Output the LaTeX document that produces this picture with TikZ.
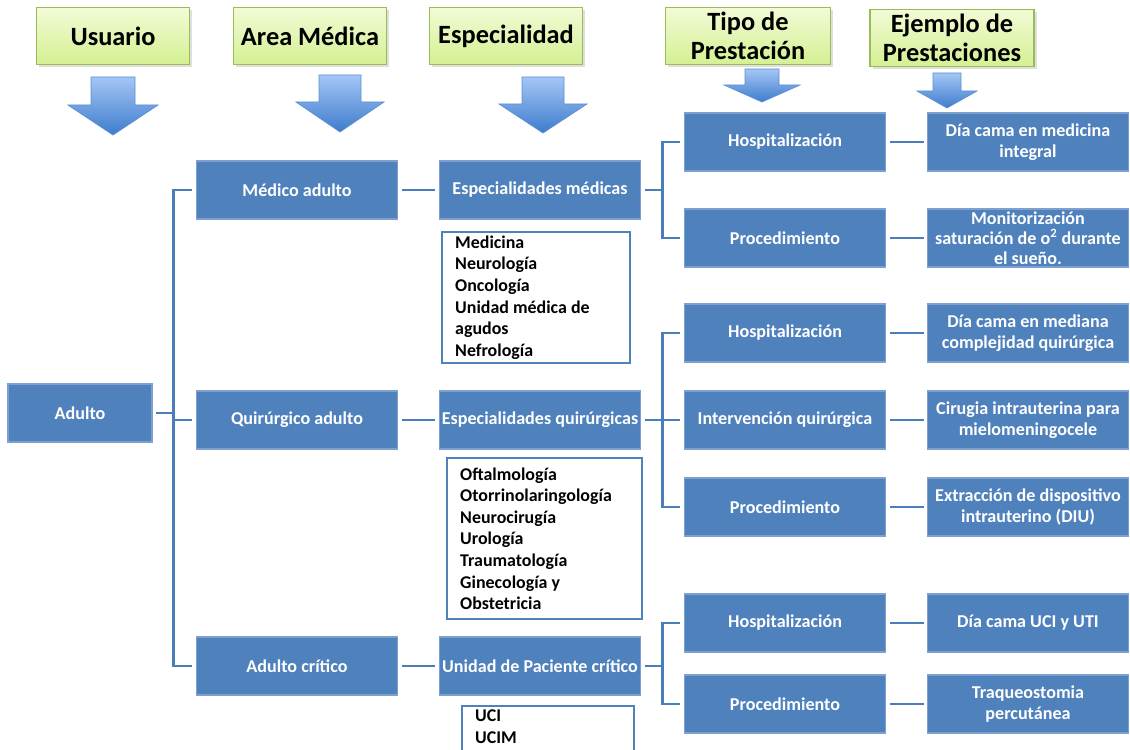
\documentclass[tikz,border=0pt]{standalone}
\usepackage{fontspec}
\setmainfont{Carlito}
\usetikzlibrary{positioning,shadows}

\definecolor{boxblue}{RGB}{79,129,189}
\definecolor{boxedge}{RGB}{125,160,208}
\definecolor{linkblue}{RGB}{74,126,187}
\definecolor{headtop}{RGB}{242,251,214}
\definecolor{headbot}{RGB}{212,240,146}
\definecolor{headedge}{RGB}{155,187,89}
\definecolor{arrtop}{RGB}{164,198,246}
\definecolor{arrbot}{RGB}{62,124,204}

% column arrow: x, top, shaft half width, head half width, head y, tip y
\newcommand{\colarrow}[6]{%
  \shade[top color=arrtop, bottom color=arrbot, draw=arrbot!85, line width=0.4pt]
    ({#1-#3},#2) -- ({#1+#3},#2) -- ({#1+#3},#5) -- ({#1+#4},#5)
    -- (#1,#6) -- ({#1-#4},#5) -- ({#1-#3},#5) -- cycle;}

\tikzset{
  header/.style={draw=headedge, line width=1pt, top color=headtop, bottom color=headbot,
    drop shadow={opacity=0.25, shadow xshift=1.5pt, shadow yshift=-1.5pt},
    minimum width=3.06cm, minimum height=1.14cm, align=center, inner sep=0pt,
    font=\bfseries\fontsize{15}{16.5}\selectfont},
  item/.style={draw=boxedge, fill=boxblue, text=white, line width=0.6pt,
    minimum width=4.02cm, minimum height=1.16cm, align=center, inner sep=1pt,
    font=\bfseries\fontsize{10.3}{12}\selectfont},
  listbox/.style={draw=boxblue, line width=1.4pt, fill=white, align=flush left,
    inner xsep=0.26cm, inner ysep=2pt, anchor=north west,
    font=\bfseries\fontsize{10.2}{12.3}\selectfont},
  link/.style={draw=linkblue, line width=1.7pt},
  gap/.style={shorten <=0.07cm, shorten >=0.07cm},
}

\begin{document}
\begin{tikzpicture}[x=0.02cm, y=-0.02cm]
  \clip (0,0) rectangle (1130,750);

  % column headers
  \node[header] (usuario) at (113,36) {Usuario};
  \node[header] (area) at (310,36) {Area Médica};
  \node[header] (espec) at (506,36) {Especialidad};
  \node[header, minimum width=3.3cm] (tipo) at (748,36) {Tipo de\\Prestación};
  \node[header, minimum width=3.28cm] (ejemplo) at (952,38) {Ejemplo de\\Prestaciones};

  \colarrow{113}{77}{22}{45}{105}{135}
  \colarrow{340}{75}{21}{44}{102}{132}
  \colarrow{543}{77}{21}{44}{104}{133}
  \colarrow{762}{69}{17}{38}{85}{102}
  \colarrow{947}{73}{14}{30}{91}{108}

  % usuario and area
  \node[item, minimum width=2.88cm] (adulto) at (80,413) {Adulto};
  \node[item] (medico) at (297,190) {Médico adulto};
  \node[item] (quir) at (297,420) {Quirúrgico adulto};
  \node[item] (critico) at (297,666) {Adulto crítico};

  % especialidades
  \node[item] (espmed) at (540,190) {Especialidades médicas};
  \node[item] (espquir) at (540,420) {Especialidades quirúrgicas};
  \node[item] (upc) at (540,666) {Unidad de Paciente crítico};

  \node[listbox, minimum width=3.76cm, minimum height=2.6cm, text width=3.24cm] (lista1) at (441,231)
    {Medicina\\Neurología\\Oncología\\Unidad médica de\\agudos\\Nefrología};
  \node[listbox, minimum width=3.9cm, minimum height=3.22cm, text width=3.38cm] (lista2) at (446,457)
    {Oftalmología\\Otorrinolaringología\\Neurocirugía\\Urología\\Traumatología\\Ginecología y\\Obstetricia};
  \node[listbox, minimum width=3.44cm, text width=2.92cm] (lista3) at (461,705)
    {UCI\\UCIM\\[20pt]\strut};

  % tipo de prestacion
  \node[item] (hosp1) at (785,142) {Hospitalización};
  \node[item] (proc1) at (785,238) {Procedimiento};
  \node[item] (hosp2) at (785,333) {Hospitalización};
  \node[item] (interv) at (785,420) {Intervención quirúrgica};
  \node[item] (proc2) at (785,507) {Procedimiento};
  \node[item] (hosp3) at (785,623) {Hospitalización};
  \node[item] (proc3) at (785,704) {Procedimiento};

  % ejemplos
  \node[item] (ej1) at (1028,142) {Día cama en medicina\\integral};
  \node[item, font=\bfseries\fontsize{10.3}{11.4}\selectfont] (ej2) at (1028,238)
    {Monitorización\\saturación de o\textsuperscript{2} durante\\el sueño.};
  \node[item] (ej3) at (1028,333) {Día cama en mediana\\complejidad quirúrgica};
  \node[item] (ej4) at (1028,420) {Cirugia intrauterina para\\mielomeningocele};
  \node[item] (ej5) at (1028,507) {Extracción de dispositivo\\intrauterino (DIU)};
  \node[item] (ej6) at (1028,623) {Día cama UCI y UTI};
  \node[item] (ej7) at (1028,704) {Traqueostomia\\percutánea};

  % connectors
  \draw[link, shorten <=0.07cm] (adulto.east) -- ++(21,0) coordinate (busa);
  \draw[link, gap] (medico.west) -| (busa) |- (critico.west);
  \draw[link, shorten >=0.07cm] (busa) |- (quir.west);

  \draw[link, gap] (medico) -- (espmed);
  \draw[link, gap] (quir) -- (espquir);
  \draw[link, gap] (critico) -- (upc);

  \draw[link, shorten <=0.07cm] (espmed.east) -- ++(21,0) coordinate (busb);
  \draw[link, gap] (hosp1.west) -| (busb) |- (proc1.west);
  \draw[link, shorten <=0.07cm] (espquir.east) -- ++(21,0) coordinate (busc);
  \draw[link, gap] (hosp2.west) -| (busc) |- (proc2.west);
  \draw[link, shorten >=0.07cm] (busc) -- (interv.west);
  \draw[link, shorten <=0.07cm] (upc.east) -- ++(21,0) coordinate (busd);
  \draw[link, gap] (hosp3.west) -| (busd) |- (proc3.west);

  \foreach \t/\e in {hosp1/ej1, proc1/ej2, hosp2/ej3, interv/ej4, proc2/ej5, hosp3/ej6, proc3/ej7}
    \draw[link, gap] (\t) -- (\e);
\end{tikzpicture}
\end{document}
